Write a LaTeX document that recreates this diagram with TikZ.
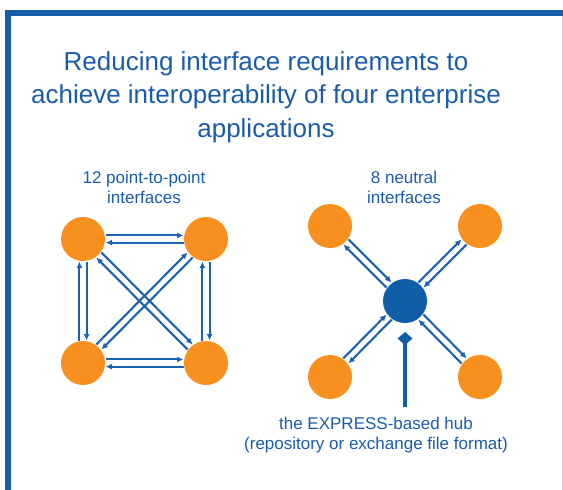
\documentclass[tikz,border=0pt]{standalone}
\usepackage{fontspec}
\setmainfont{Liberation Sans}
\usetikzlibrary{arrows.meta,calc}
\definecolor{orng}{RGB}{247,144,30}
\definecolor{hubblue}{RGB}{17,94,168}
\definecolor{txtblue}{RGB}{26,92,170}
\definecolor{lnblue}{RGB}{28,98,176}
\definecolor{frblue}{RGB}{21,94,170}
\definecolor{edgegrey}{RGB}{196,206,224}
\newcommand\biarrow[2]{%
  \draw[conn] ($(#1)!3.6pt!90:(#2)$) -- ($(#2)!3.6pt!-90:(#1)$);
  \draw[conn] ($(#2)!3.6pt!90:(#1)$) -- ($(#1)!3.6pt!-90:(#2)$);
}
\begin{document}
\begin{tikzpicture}[x=1pt,y=-1pt,
  app/.style={circle,fill=orng,minimum size=44pt,inner sep=0pt},
  hubnode/.style={circle,fill=hubblue,minimum size=44pt,inner sep=0pt},
  conn/.style={draw=lnblue,line width=2.1pt,-{Latex[length=6.5pt,width=6pt]},shorten >=22.5pt,shorten <=22.5pt},
  ttl/.style={text=txtblue,font=\fontsize{26}{32}\selectfont,anchor=base,inner sep=0pt},
  lbl/.style={text=txtblue,font=\fontsize{17}{20}\selectfont,anchor=base,inner sep=0pt},
  pole/.style={draw=hubblue,line width=4.5pt,-{Diamond[length=13pt,width=15pt]}}]
\useasboundingbox (0,0) rectangle (563,490);
% frame
\fill[frblue] (5,10) rectangle (563,16);
\fill[frblue] (5,10) rectangle (11,490);
\draw[edgegrey,line width=0.8pt] (562,16) -- (562,490);
% title
\node[ttl] (t1) at (266,70) {Reducing interface requirements to};
\node[ttl] (t2) at (266,103.5) {achieve interoperability of four enterprise};
\node[ttl] (t3) at (266,137) {applications};
% sub titles
\node[lbl] (s1a) at (144,183) {12 point-to-point};
\node[lbl] (s1b) at (144,203) {interfaces};
\node[lbl] (s2a) at (404,183) {8 neutral};
\node[lbl] (s2b) at (404,203) {interfaces};
% left cluster
\node[app] (a1) at (83,239) {};
\node[app] (a2) at (206,239) {};
\node[app] (a3) at (83,363) {};
\node[app] (a4) at (206,363) {};
\biarrow{a1}{a2}
\biarrow{a3}{a4}
\biarrow{a1}{a3}
\biarrow{a2}{a4}
\biarrow{a1}{a4}
\biarrow{a2}{a3}
% right cluster
\node[app] (b1) at (330,226) {};
\node[app] (b2) at (480,226) {};
\node[app] (b3) at (330,377) {};
\node[app] (b4) at (480,377) {};
\node[hubnode] (hub) at (405,301) {};
\biarrow{hub}{b1}
\biarrow{hub}{b2}
\biarrow{hub}{b3}
\biarrow{hub}{b4}
% pole
\coordinate (ptop) at (405,332);
\coordinate (pbot) at (405,407);
\draw[pole] (pbot) -- (ptop);
\node[lbl] (h1) at (376,429) {the EXPRESS-based hub};
\node[lbl] (h2) at (376,449) {(repository or exchange file format)};
\end{tikzpicture}
\end{document}
